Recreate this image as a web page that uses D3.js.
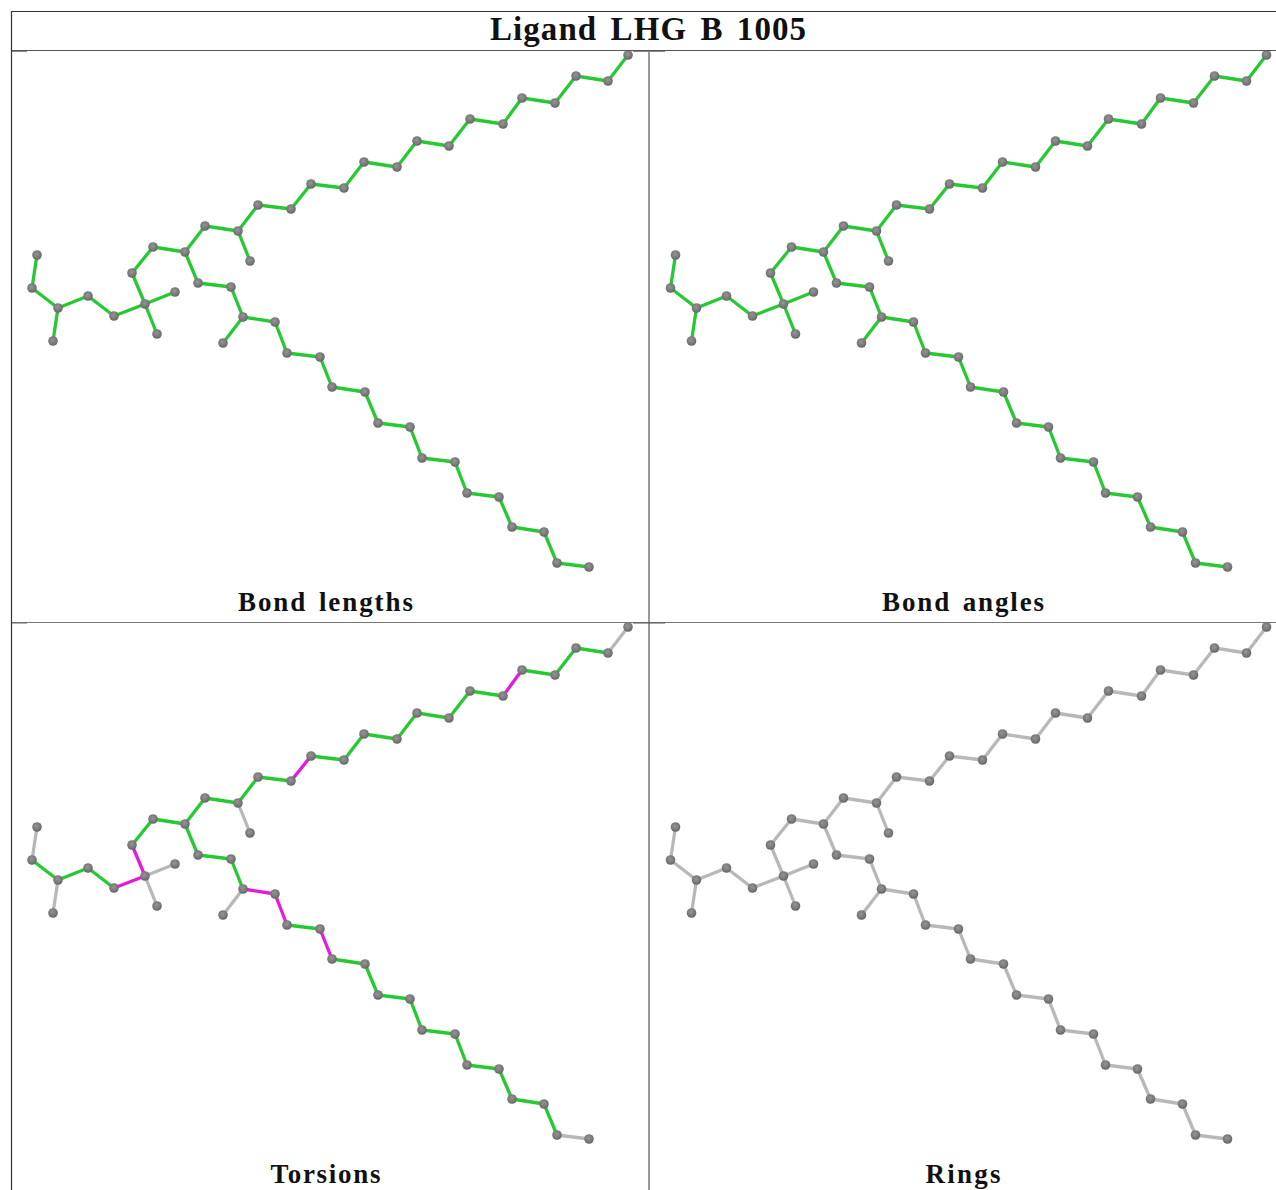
<!DOCTYPE html>
<html lang="en">
<head>
    <meta charset="UTF-8">
    <title>Ligand LHG B 1005</title>
    <script src="https://cdn.jsdelivr.net/npm/d3@7"></script>
    <style>
        html, body { margin: 0; padding: 0; background: #fff; overflow: hidden; }
        svg { display: block; }
        text { font-family: "Liberation Serif", serif; font-weight: bold; fill: #111; }
    </style>
</head>
<body>
<div id="container"></div>
<script>
    const chartTitle = "Ligand LHG B 1005";
    const panelLabels = ["Bond lengths", "Bond angles", "Torsions", "Rings"];

    // atom positions
    const atomX = [37, 32, 58, 53, 88, 114, 145, 175, 157, 132, 153, 185, 205, 238, 250, 258, 291, 311, 344, 364, 397, 417, 449, 470, 503, 522, 555, 576, 608, 628,
        198, 231, 243, 223, 275, 287, 320, 332, 365, 378, 410, 422, 455, 467, 499, 512, 544, 557, 589];
    const atomY = [255, 288, 308, 341, 296, 316, 304, 292, 334, 273, 247, 252, 226, 231, 261, 205, 209, 184, 188, 162, 167, 141, 146, 119, 124, 98, 103, 76, 81, 55,
        283, 287, 317, 343, 322, 353, 357, 387, 392, 423, 427, 458, 462, 493, 497, 527, 532, 563, 567];

    const bondFrom = [0, 1, 2, 2, 4, 5, 6, 6, 6, 9, 10, 11, 12, 13, 13, 15, 16, 17, 18, 19, 20, 21, 22, 23, 24, 25, 26, 27, 28,
        11, 30, 31, 32, 32, 34, 35, 36, 37, 38, 39, 40, 41, 42, 43, 44, 45, 46, 47];
    const bondTo = [1, 2, 3, 4, 5, 6, 7, 8, 9, 10, 11, 12, 13, 14, 15, 16, 17, 18, 19, 20, 21, 22, 23, 24, 25, 26, 27, 28, 29,
        30, 31, 32, 33, 34, 35, 36, 37, 38, 39, 40, 41, 42, 43, 44, 45, 46, 47, 48];

    const torsionOutliers = ["5-6", "6-9", "16-17", "24-25", "32-34", "34-35", "36-37"];
    const torsionUnchecked = ["0-1", "2-3", "6-7", "6-8", "13-14", "28-29", "32-33", "47-48"];

    const width = 1276;
    const height = 1190;
    const panelW = 638.5;
    const panelH = 572;
    const good = "#25c930", bad = "#e31bdc", none = "#b8b8b8";

    function bondColor(panel, key) {
        if (panel === 3) return none;
        if (panel < 2) return good;
        if (torsionOutliers.includes(key)) return bad;
        if (torsionUnchecked.includes(key)) return none;
        return good;
    }

    const svg = d3.select("#container").append("svg")
        .attr("width", width)
        .attr("height", height);

    const defs = svg.append("defs");
    const blur = defs.append("filter").attr("id", "soft")
        .attr("filterUnits", "userSpaceOnUse")
        .attr("x", 0).attr("y", 0).attr("width", width).attr("height", height);
    blur.append("feGaussianBlur").attr("stdDeviation", 0.65);
    const ball = defs.append("radialGradient").attr("id", "ball")
        .attr("cx", "45%").attr("cy", "40%").attr("r", "60%");
    ball.append("stop").attr("offset", "0%").attr("stop-color", "#959595");
    ball.append("stop").attr("offset", "70%").attr("stop-color", "#767676");
    ball.append("stop").attr("offset", "100%").attr("stop-color", "#636363");

    const panels = svg.selectAll("g.panel")
        .data(panelLabels)
        .join("g")
        .attr("class", "panel");

    panels.each(function (label, p) {
        const col = p % 2, row = Math.floor(p / 2);
        const x = d3.scaleLinear().domain([0, panelW]).range([col * panelW, (col + 1) * panelW]);
        const y = d3.scaleLinear().domain([0, panelH]).range([row * panelH, (row + 1) * panelH]);
        const g = d3.select(this).append("g").attr("filter", "url(#soft)");

        g.selectAll("line.bond")
            .data(bondFrom.map((f, i) => ({ f: f, t: bondTo[i] })))
            .join("line")
            .attr("class", "bond")
            .attr("x1", d => x(atomX[d.f]))
            .attr("y1", d => y(atomY[d.f]))
            .attr("x2", d => x(atomX[d.t]))
            .attr("y2", d => y(atomY[d.t]))
            .attr("stroke", d => bondColor(p, d.f + "-" + d.t))
            .attr("stroke-width", 3.3);

        g.selectAll("circle.atom")
            .data(atomX.map((v, i) => i))
            .join("circle")
            .attr("class", "atom")
            .attr("cx", i => x(atomX[i]))
            .attr("cy", i => y(atomY[i]))
            .attr("r", 4.8)
            .attr("fill", "url(#ball)");
    });

    // table rules
    const rules = [
        [11, 11.5, 1276, 11.5, "#333", 1.2],
        [11.5, 11, 11.5, 1190, "#333", 1.2],
        [12, 50.5, 1276, 50.5, "#555", 1.2],
        [12, 622.5, 1276, 622.5, "#777", 1],
        [649, 51, 649, 1190, "#6e6e6e", 1.4],
        [12, 51.5, 27, 51.5, "#888", 1],
        [633, 51.5, 665, 51.5, "#888", 1],
        [12, 623, 27, 623, "#666", 1],
        [633, 623, 665, 623, "#555", 1]
    ];
    svg.append("g").selectAll("line")
        .data(rules)
        .join("line")
        .attr("x1", d => d[0]).attr("y1", d => d[1])
        .attr("x2", d => d[2]).attr("y2", d => d[3])
        .attr("stroke", d => d[4])
        .attr("stroke-width", d => d[5]);

    // captions, stretched to the width they have in the table
    const captionWidth = [175, 162, 110, 75];
    svg.append("g").selectAll("text")
        .data(panelLabels)
        .join("text")
        .attr("x", (d, i) => i % 2 ? 963 : 325.5)
        .attr("y", (d, i) => i < 2 ? 611 : 1183)
        .attr("text-anchor", "middle")
        .attr("font-size", 27)
        .attr("word-spacing", 3)
        .attr("textLength", (d, i) => captionWidth[i])
        .attr("lengthAdjust", "spacing")
        .text(d => d);

    svg.append("text")
        .attr("x", 648)
        .attr("y", 39.5)
        .attr("text-anchor", "middle")
        .attr("font-size", 33)
        .attr("word-spacing", 4)
        .attr("textLength", 316)
        .attr("lengthAdjust", "spacing")
        .text(chartTitle);
</script>
</body>
</html>
